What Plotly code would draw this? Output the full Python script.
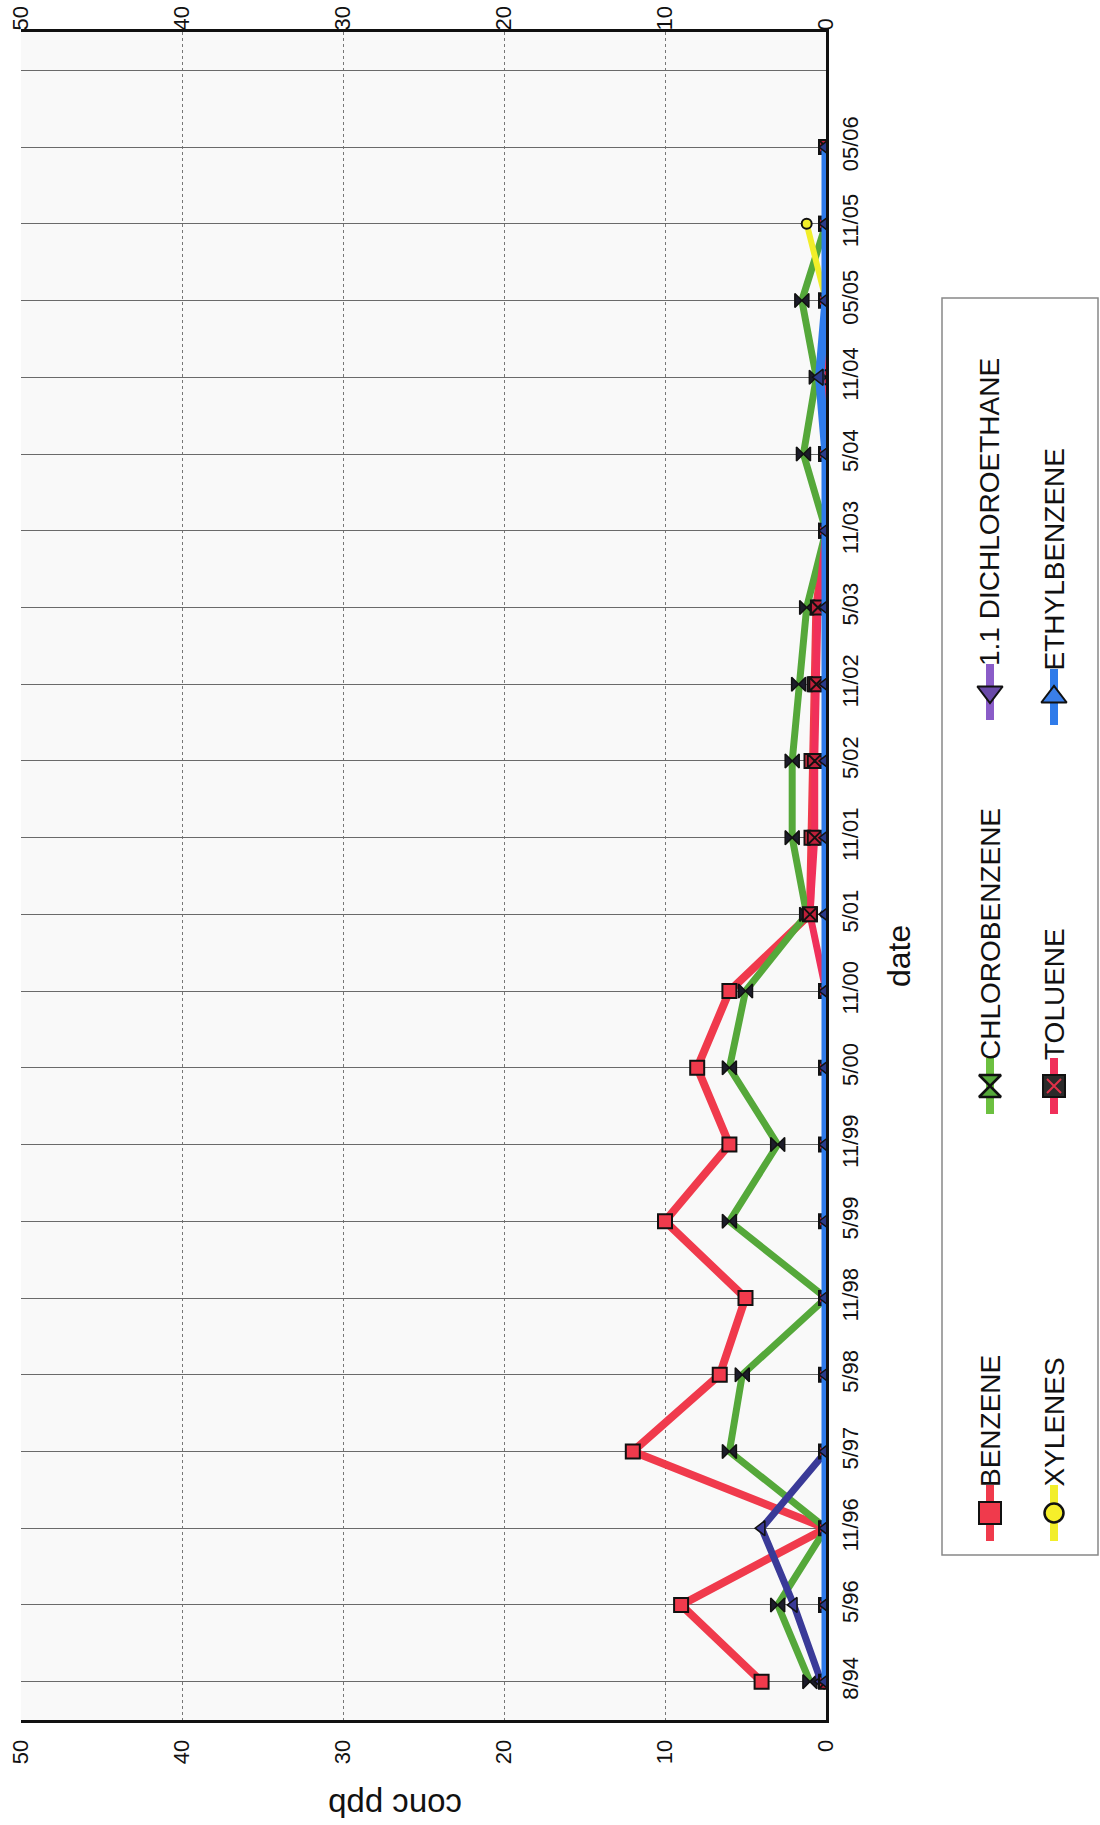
import plotly.graph_objects as go

# Sampling dates (category axis) and concentrations in ppb
dates = ["8/94", "5/96", "11/96", "5/97", "5/98", "11/98", "5/99", "11/99",
         "5/00", "11/00", "5/01", "11/01", "5/02", "11/02", "5/03", "11/03",
         "5/04", "11/04", "05/05", "11/05", "05/06"]

benzene = [4, 9, 0, 12, 6.6, 5, 10, 6, 8, 6, 1.0, 0.9, 0.9, 0.7, 0.6,
           0, 0, 0, 0, 0, 0]
chlorobenzene = [1.0, 3, 0, 6, 5.2, 0, 6, 3, 6, 5, 1.2, 2.1, 2.1, 1.7, 1.2,
                 0, 1.4, 0.6, 1.5, 0, 0]
dichloroethane = [0.3, 2, 4, 0, 0, 0, 0, 0, 0, 0, 0, 0, 0, 0, 0,
                  0, 0, 0, 0, 0, 0]
xylenes = [0, 0, 0, 0, 0, 0, 0, 0, 0, 0, 0, 0, 0, 0, 0,
           0, 0, 0, 0, 1.2, None]
toluene = [0, 0, 0, 0, 0, 0, 0, 0, 0, 0, 1.0, 0.7, 0.7, 0.6, 0.5,
           0, 0, 0, 0, 0, 0]
ethylbenzene = [0, 0, 0, 0, 0, 0, 0, 0, 0, 0, 0, 0, 0, 0, 0,
                0, 0, 0.4, 0, 0, 0]

conc_ticks = [0, 10, 20, 30, 40, 50]

# ---- page geometry (pixels) ----
W, H = 1100, 1825
PLOT_L, PLOT_R, PLOT_T, PLOT_B = 21, 826, 32, 1720
FONT = "Liberation Sans, Arial, sans-serif"


def px(x):
    return x / W


def py(y):
    return 1 - y / H


series = [
    dict(name="BENZENE", values=benzene, color="#f03a4c", width=8,
         symbol="square", size=14, fill="#f03a4c", mline="#111", mw=2),
    dict(name="CHLOROBENZENE", values=chlorobenzene, color="#55a83a", width=7,
         symbol="bowtie", size=14, fill="#1c1c2a", mline="#111", mw=1.5),
    dict(name="1.1 DICHLOROETHANE", values=dichloroethane, color="#3a3a98",
         width=7, symbol="triangle-left", size=13, fill="#3a3a98",
         mline="#111", mw=1.5),
    dict(name="XYLENES", values=xylenes, color="#f2ee2a", width=6,
         symbol="circle", size=10, fill="#f2ee2a", mline="#111", mw=2),
    dict(name="TOLUENE", values=toluene, color="#f0305a", width=7,
         symbol="square-x", size=14, fill="#c0203a", mline="#111", mw=2),
    dict(name="ETHYLBENZENE", values=ethylbenzene, color="#2f7bea", width=9,
         symbol="triangle-left", size=14, fill="#2a3a8a", mline="#111", mw=1.5),
]

idx = list(range(len(dates)))

fig = go.Figure()

for s in series:
    fig.add_trace(go.Scatter(
        x=s["values"], y=idx, mode="lines+markers", name=s["name"],
        line=dict(color=s["color"], width=s["width"]),
        marker=dict(symbol=s["symbol"], size=s["size"], color=s["fill"],
                    line=dict(color=s["mline"], width=s["mw"])),
        connectgaps=False, showlegend=False, xaxis="x", yaxis="y",
    ))

# empty trace that registers the mirrored concentration axis along the top
fig.add_trace(go.Scatter(
    x=conc_ticks, y=[None] * len(conc_ticks), mode="markers",
    showlegend=False, hoverinfo="skip", xaxis="x2", yaxis="y",
))

# ---- hand-drawn legend (rotated layout) on a pixel-space overlay axis ----
COL1, COL2 = 990, 1054
legend_items = [
    dict(name="BENZENE", col=COL1, ym=1513, color="#f03a4c",
         marker=[dict(symbol="square", size=22, color="#f03a4c", lc="#111", lw=2)]),
    dict(name="XYLENES", col=COL2, ym=1513, color="#f2ee2a",
         marker=[dict(symbol="circle", size=19, color="#f6ef2a", lc="#111", lw=2.5)]),
    dict(name="CHLOROBENZENE", col=COL1, ym=1086, color="#6cc040",
         marker=[dict(symbol="hourglass", size=22, color="#55a83a", lc="#111", lw=2.5)]),
    dict(name="TOLUENE", col=COL2, ym=1086, color="#f0305a",
         marker=[dict(symbol="square", size=22, color="#2a2a2a", lc="#111", lw=2),
                 dict(symbol="x-thin-open", size=14, color="#e03048", lc="#e03048", lw=2)]),
    dict(name="1.1 DICHLOROETHANE", col=COL1, ym=692, color="#8a5cc8",
         marker=[dict(symbol="triangle-down", size=22, color="#6a4aa8", lc="#111", lw=2)]),
    dict(name="ETHYLBENZENE", col=COL2, ym=697, color="#2f7bea",
         marker=[dict(symbol="triangle-up", size=22, color="#3a7ee8", lc="#111", lw=2)]),
]

annotations = []
for it in legend_items:
    fig.add_trace(go.Scatter(
        x=[it["col"], it["col"]], y=[it["ym"] - 28, it["ym"] + 28],
        mode="lines", line=dict(color=it["color"], width=8),
        showlegend=False, hoverinfo="skip", xaxis="x3", yaxis="y3",
    ))
    for m in it["marker"]:
        fig.add_trace(go.Scatter(
            x=[it["col"]], y=[it["ym"]], mode="markers",
            marker=dict(symbol=m["symbol"], size=m["size"], color=m["color"],
                        line=dict(color=m["lc"], width=m["lw"])),
            showlegend=False, hoverinfo="skip", xaxis="x3", yaxis="y3",
        ))
    annotations.append(dict(
        text=it["name"], x=px(it["col"]), y=py(it["ym"] - 24),
        xref="paper", yref="paper", xanchor="center", yanchor="bottom",
        textangle=-90, showarrow=False,
        font=dict(family=FONT, size=28, color="#111"),
    ))

# axis titles
annotations.append(dict(
    text="date", x=px(899), y=py(956), xref="paper", yref="paper",
    xanchor="center", yanchor="middle", textangle=-90, showarrow=False,
    font=dict(family=FONT, size=32, color="#111"),
))
annotations.append(dict(
    text="conc ppb", x=px(395), y=py(1806), xref="paper", yref="paper",
    xanchor="center", yanchor="middle", textangle=180, showarrow=False,
    font=dict(family=FONT, size=33, color="#111"),
))

shapes = [
    dict(type="rect", xref="paper", yref="paper",
         x0=px(PLOT_L), x1=px(PLOT_R), y0=py(PLOT_B), y1=py(PLOT_T),
         fillcolor="#f9f9f9", line=dict(width=0), layer="below"),
    dict(type="rect", xref="paper", yref="paper",
         x0=px(942), x1=px(1098), y0=py(1555), y1=py(298),
         fillcolor="#ffffff", line=dict(color="#888", width=1.5), layer="below"),
]

tickfont = dict(family=FONT, size=22, color="#111")

fig.update_layout(
    template="none",
    width=W, height=H,
    margin=dict(l=0, r=0, t=0, b=0, pad=0),
    paper_bgcolor="white",
    plot_bgcolor="rgba(0,0,0,0)",
    font=dict(family=FONT, color="#111"),
    showlegend=False,
    xaxis=dict(
        domain=[px(PLOT_L), px(PLOT_R)], range=[50, 0], tickvals=conc_ticks,
        tickangle=-90, tickfont=tickfont, ticks="", showgrid=True,
        gridcolor="#777", griddash="dot", gridwidth=1.2, showline=True,
        linecolor="#111", linewidth=3, zeroline=False, anchor="y",
        automargin=False, ticklabelstandoff=8, fixedrange=True,
    ),
    xaxis2=dict(
        overlaying="x", side="top", anchor="y", range=[50, 0],
        tickvals=conc_ticks, tickangle=-90, tickfont=tickfont, ticks="",
        showgrid=False, showline=True, linecolor="#111", linewidth=3,
        zeroline=False, automargin=False, ticklabelstandoff=-6,
        fixedrange=True,
    ),
    yaxis=dict(
        domain=[py(PLOT_B), py(PLOT_T)], range=[-0.5, 21.5],
        tickvals=list(range(len(dates) + 1)), ticktext=dates + [""],
        side="right", tickangle=-90,
        tickfont=dict(family=FONT, size=22, color="#111"), ticks="",
        showgrid=True, gridcolor="#6a6a6a", gridwidth=1, showline=True,
        linecolor="#111", linewidth=3, zeroline=False, anchor="x",
        automargin=False, ticklabelstandoff=3, fixedrange=True,
    ),
    xaxis3=dict(domain=[0, 1], range=[0, W], visible=False, anchor="y3",
                fixedrange=True),
    yaxis3=dict(domain=[0, 1], range=[H, 0], visible=False, anchor="x3",
                fixedrange=True),
    shapes=shapes,
    annotations=annotations,
)

fig.write_html("out.html")
